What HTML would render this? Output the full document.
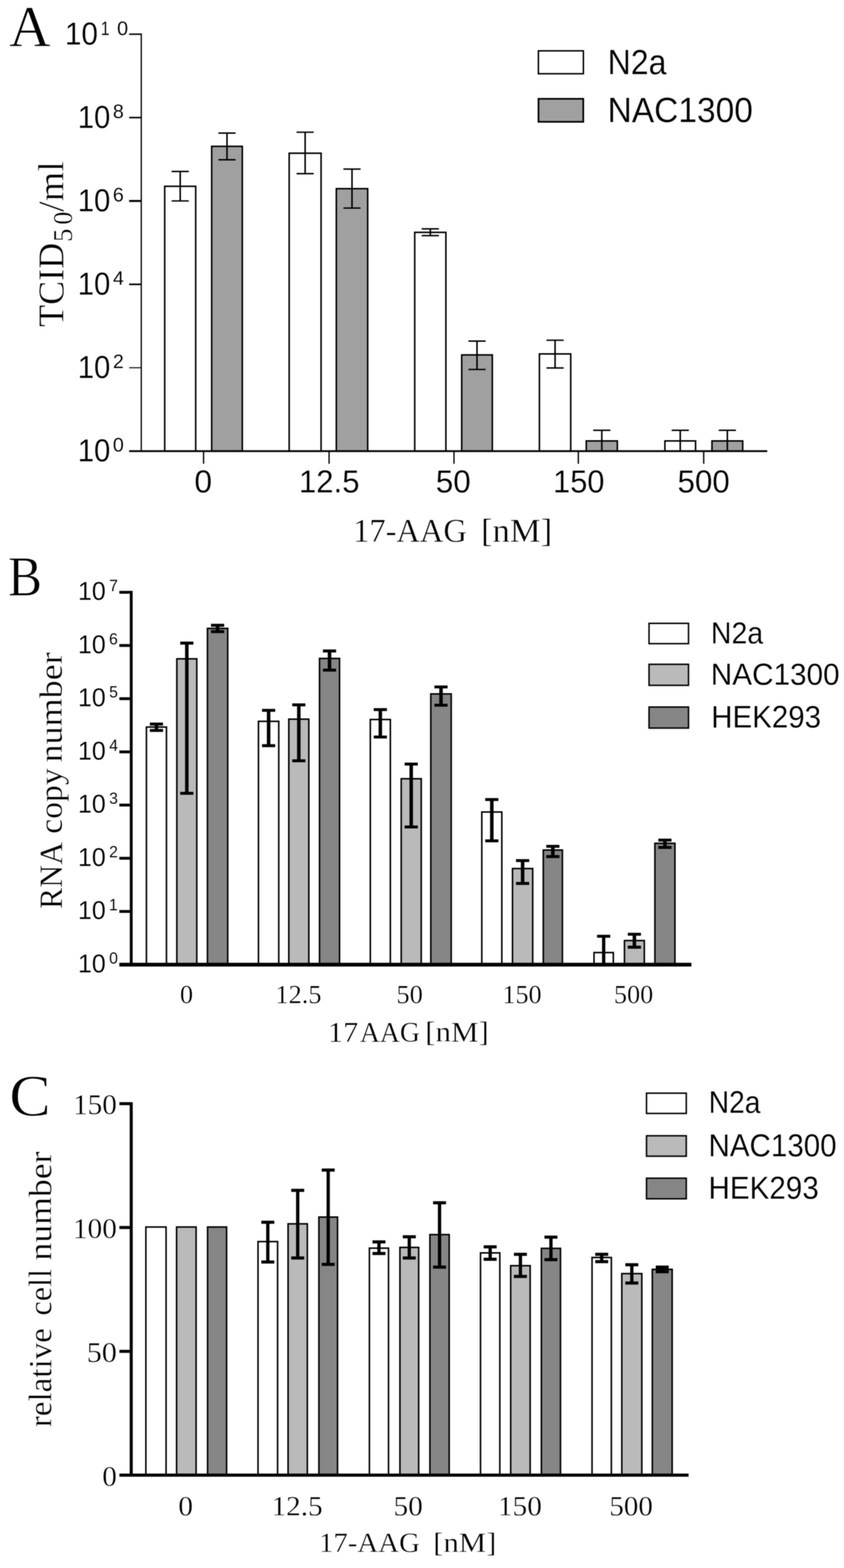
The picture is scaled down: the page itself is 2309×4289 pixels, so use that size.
<!DOCTYPE html>
<html lang="en">
<head>
<meta charset="utf-8">
<title>17-AAG dose response: TCID50, RNA copy number and relative cell number</title>
<style>
html,body{margin:0;padding:0;background:#fff;}
body{width:2309px;height:4289px;overflow:hidden;}
svg{display:block;}
svg line, svg rect{stroke:#000;}
text{fill:#000;}
.s{font-family:"Liberation Sans",Arial,Helvetica,sans-serif;stroke:#fff;stroke-linejoin:round;}
.r{font-family:"Liberation Serif","Times New Roman",Times,serif;stroke:#fff;stroke-linejoin:round;}
</style>
</head>
<body>
<svg width="2309" height="4289" viewBox="0 0 2309 4289">
<rect x="0" y="0" width="2309" height="4289" fill="#fff" style="stroke:none"/>
<defs><filter id="soft" x="0" y="0" width="2309" height="4289" filterUnits="userSpaceOnUse" color-interpolation-filters="sRGB"><feGaussianBlur stdDeviation="0.9"/></filter></defs>
<g filter="url(#soft)">
<g id="panelA">
<rect x="450.6" y="509.6" width="84.8" height="724.4" fill="#fff" stroke-width="4.2"/>
<rect x="579.1" y="400.3" width="83.8" height="833.7" fill="#a0a0a0" stroke-width="4.2"/>
<rect x="791.1" y="419.1" width="87.3" height="814.9" fill="#fff" stroke-width="4.2"/>
<rect x="920.1" y="516.1" width="85.8" height="717.9" fill="#a0a0a0" stroke-width="4.2"/>
<rect x="1134.6" y="635.6" width="85.3" height="598.4" fill="#fff" stroke-width="4.2"/>
<rect x="1263.1" y="970.8" width="83.8" height="263.2" fill="#a0a0a0" stroke-width="4.2"/>
<rect x="1475.7" y="968.1" width="85.7" height="265.9" fill="#fff" stroke-width="4.2"/>
<rect x="1603.9" y="1206.1" width="85" height="27.9" fill="#a0a0a0" stroke-width="4.2"/>
<rect x="1819.1" y="1206.1" width="83.8" height="27.9" fill="#fff" stroke-width="4.2"/>
<rect x="1947.8" y="1206.1" width="84.1" height="27.9" fill="#a0a0a0" stroke-width="4.2"/>
<line x1="493" y1="469" x2="493" y2="549.6" stroke-width="4.2"/>
<line x1="469.5" y1="469" x2="516.5" y2="469" stroke-width="3.8"/>
<line x1="469.5" y1="549.6" x2="516.5" y2="549.6" stroke-width="3.8"/>
<line x1="621" y1="364" x2="621" y2="437" stroke-width="4.2"/>
<line x1="597.5" y1="364" x2="644.5" y2="364" stroke-width="3.8"/>
<line x1="597.5" y1="437" x2="644.5" y2="437" stroke-width="3.8"/>
<line x1="834.75" y1="361.6" x2="834.75" y2="475" stroke-width="4.2"/>
<line x1="811.25" y1="361.6" x2="858.25" y2="361.6" stroke-width="3.8"/>
<line x1="811.25" y1="475" x2="858.25" y2="475" stroke-width="3.8"/>
<line x1="963" y1="462.5" x2="963" y2="569.2" stroke-width="4.2"/>
<line x1="939.5" y1="462.5" x2="986.5" y2="462.5" stroke-width="3.8"/>
<line x1="939.5" y1="569.2" x2="986.5" y2="569.2" stroke-width="3.8"/>
<line x1="1177.25" y1="626" x2="1177.25" y2="644.5" stroke-width="4.2"/>
<line x1="1153.75" y1="626" x2="1200.75" y2="626" stroke-width="3.8"/>
<line x1="1153.75" y1="644.5" x2="1200.75" y2="644.5" stroke-width="3.8"/>
<line x1="1305" y1="933" x2="1305" y2="1010.7" stroke-width="4.2"/>
<line x1="1281.5" y1="933" x2="1328.5" y2="933" stroke-width="3.8"/>
<line x1="1281.5" y1="1010.7" x2="1328.5" y2="1010.7" stroke-width="3.8"/>
<line x1="1518.55" y1="930.7" x2="1518.55" y2="1006.5" stroke-width="4.2"/>
<line x1="1495.05" y1="930.7" x2="1542.05" y2="930.7" stroke-width="3.8"/>
<line x1="1495.05" y1="1006.5" x2="1542.05" y2="1006.5" stroke-width="3.8"/>
<line x1="1646.4" y1="1177" x2="1646.4" y2="1234" stroke-width="4.2"/>
<line x1="1622.9" y1="1177" x2="1669.9" y2="1177" stroke-width="3.8"/>
<line x1="1861" y1="1177" x2="1861" y2="1234" stroke-width="4.2"/>
<line x1="1837.5" y1="1177" x2="1884.5" y2="1177" stroke-width="3.8"/>
<line x1="1989.85" y1="1177" x2="1989.85" y2="1234" stroke-width="4.2"/>
<line x1="1966.35" y1="1177" x2="2013.35" y2="1177" stroke-width="3.8"/>
<line x1="386.5" y1="91.4" x2="386.5" y2="1234" stroke-width="3.4"/>
<line x1="353.3" y1="1234" x2="2099" y2="1234" stroke-width="4.8"/>
<line x1="353.3" y1="1005.9" x2="386.5" y2="1005.9" stroke-width="2.8"/>
<line x1="353.3" y1="777.8" x2="386.5" y2="777.8" stroke-width="4.4"/>
<line x1="353.3" y1="549.7" x2="386.5" y2="549.7" stroke-width="5.6"/>
<line x1="353.3" y1="321.6" x2="386.5" y2="321.6" stroke-width="4.2"/>
<line x1="353.3" y1="93.5" x2="386.5" y2="93.5" stroke-width="4.2"/>
<line x1="556.9" y1="1234" x2="556.9" y2="1268.6" stroke-width="3.6"/>
<line x1="900.3" y1="1234" x2="900.3" y2="1268.6" stroke-width="3.6"/>
<line x1="1242" y1="1234" x2="1242" y2="1268.6" stroke-width="3.6"/>
<line x1="1582.2" y1="1234" x2="1582.2" y2="1268.6" stroke-width="3.6"/>
<line x1="1925.2" y1="1234" x2="1925.2" y2="1268.6" stroke-width="3.6"/>
<text class="s" transform="translate(212.75 1262) scale(0.9231 1)" font-size="86.84" stroke-width="0.43">10</text>
<text class="s" transform="translate(308.82 1235.4) scale(1.0000 1)" font-size="53.83" stroke-width="0.27">0</text>
<text class="s" transform="translate(212.75 1033.9) scale(0.9231 1)" font-size="86.84" stroke-width="0.43">10</text>
<text class="s" transform="translate(308.82 1007.3) scale(1.0000 1)" font-size="53.83" stroke-width="0.27">2</text>
<text class="s" transform="translate(212.75 805.8) scale(0.9231 1)" font-size="86.84" stroke-width="0.43">10</text>
<text class="s" transform="translate(309 779.2) scale(1.0000 1)" font-size="53.83" stroke-width="0.27">4</text>
<text class="s" transform="translate(212.75 577.7) scale(0.9231 1)" font-size="86.84" stroke-width="0.43">10</text>
<text class="s" transform="translate(308.64 551.1) scale(1.0000 1)" font-size="53.83" stroke-width="0.27">6</text>
<text class="s" transform="translate(212.75 349.6) scale(0.9231 1)" font-size="86.84" stroke-width="0.43">10</text>
<text class="s" transform="translate(308.82 323) scale(1.0000 1)" font-size="53.83" stroke-width="0.27">8</text>
<text class="s" transform="translate(177.68 121.5) scale(0.9347 1)" font-size="86.84" stroke-width="0.43">10</text>
<text class="s" transform="translate(275.68 95.5) scale(0.7930 1)" font-size="54.55" stroke-width="0.27">1</text>
<text class="s" transform="translate(320.13 95.5) scale(0.9962 1)" font-size="54.55" stroke-width="0.27">0</text>
<text class="s" transform="translate(531.72 1346.9) scale(1.0009 1)" font-size="86.99" stroke-width="0.43">0</text>
<text class="s" transform="translate(817.67 1346.9) scale(0.9799 1)" font-size="86.99" stroke-width="0.43">12.5</text>
<text class="s" transform="translate(1192.27 1346.9) scale(0.9868 1)" font-size="86.99" stroke-width="0.43">50</text>
<text class="s" transform="translate(1513.03 1346.9) scale(0.9695 1)" font-size="86.99" stroke-width="0.43">150</text>
<text class="s" transform="translate(1853.47 1346.9) scale(0.9855 1)" font-size="86.99" stroke-width="0.43">500</text>
<text class="r" transform="translate(966.09 1482.3) scale(0.9686 1)" font-size="91.82" stroke-width="0.92">17-AAG</text>
<text class="r" transform="translate(1315.95 1482.3) scale(1.0327 1)" font-size="91.82" stroke-width="0.92">[nM]</text>
<text class="r" transform="translate(172.5 894.24) rotate(-90) scale(0.9940 1)" font-size="99.29" stroke-width="0.99">TCID</text>
<text class="r" transform="translate(197.4 661.49) rotate(-90) scale(0.9787 1)" font-size="73.72" stroke-width="0.74">5</text>
<text class="r" transform="translate(197.4 614.6) rotate(-90) scale(0.9633 1)" font-size="73.72" stroke-width="0.74">0</text>
<text class="r" transform="translate(172.5 579.4) rotate(-90) scale(1.0452 1)" font-size="99.29" stroke-width="0.99">/ml</text>
<text class="r" transform="translate(24.41 125.5) scale(1.0002 1)" font-size="158.64" stroke-width="1.59">A</text>
<rect x="1472.9" y="139.1" width="123.1" height="62.6" fill="#fff" stroke-width="4"/>
<rect x="1473.2" y="270.3" width="122.5" height="62.9" fill="#a0a0a0" stroke-width="4.6"/>
<text class="s" transform="translate(1662.5 202.8) scale(0.9070 1)" font-size="96.52" stroke-width="0.48">N2a</text>
<text class="s" transform="translate(1662.16 333.6) scale(0.9431 1)" font-size="97.25" stroke-width="0.49">NAC1300</text>
</g>
<g id="panelB">
<rect x="400.6" y="1988.7" width="54.8" height="650" fill="#fff" stroke-width="4.2"/>
<rect x="483.8" y="1802.1" width="54.6" height="836.6" fill="#bababa" stroke-width="4.2"/>
<rect x="567.5" y="1718.9" width="55.5" height="919.8" fill="#868686" stroke-width="4.2"/>
<rect x="707.1" y="1973.1" width="55.5" height="665.6" fill="#fff" stroke-width="4.2"/>
<rect x="790.1" y="1967.1" width="54.8" height="671.6" fill="#bababa" stroke-width="4.2"/>
<rect x="874.1" y="1801.1" width="54.8" height="837.6" fill="#868686" stroke-width="4.2"/>
<rect x="1013.1" y="1968.1" width="54.8" height="670.6" fill="#fff" stroke-width="4.2"/>
<rect x="1097.6" y="2130.1" width="54.8" height="508.6" fill="#bababa" stroke-width="4.2"/>
<rect x="1178.6" y="1898.1" width="55.8" height="740.6" fill="#868686" stroke-width="4.2"/>
<rect x="1318.1" y="2221.1" width="54.8" height="417.6" fill="#fff" stroke-width="4.2"/>
<rect x="1402.1" y="2375.8" width="55.3" height="262.9" fill="#bababa" stroke-width="4.2"/>
<rect x="1486.3" y="2325.1" width="52.3" height="313.6" fill="#868686" stroke-width="4.2"/>
<rect x="1625.1" y="2605.6" width="52.8" height="33.1" fill="#fff" stroke-width="4.2"/>
<rect x="1708.4" y="2572.8" width="54.3" height="65.9" fill="#bababa" stroke-width="4.2"/>
<rect x="1791.6" y="2306.7" width="54.9" height="332" fill="#868686" stroke-width="4.2"/>
<line x1="428" y1="1980.5" x2="428" y2="1998" stroke-width="9.6"/>
<line x1="410" y1="1980.5" x2="446" y2="1980.5" stroke-width="8.2"/>
<line x1="410" y1="1998" x2="446" y2="1998" stroke-width="8.2"/>
<line x1="511.1" y1="1759.2" x2="511.1" y2="2170" stroke-width="9.6"/>
<line x1="493.1" y1="1759.2" x2="529.1" y2="1759.2" stroke-width="8.2"/>
<line x1="493.1" y1="2170" x2="529.1" y2="2170" stroke-width="8.2"/>
<line x1="595.25" y1="1710.3" x2="595.25" y2="1727.6" stroke-width="9.6"/>
<line x1="577.25" y1="1710.3" x2="613.25" y2="1710.3" stroke-width="8.2"/>
<line x1="577.25" y1="1727.6" x2="613.25" y2="1727.6" stroke-width="8.2"/>
<line x1="734.85" y1="1943" x2="734.85" y2="2039.6" stroke-width="9.6"/>
<line x1="716.85" y1="1943" x2="752.85" y2="1943" stroke-width="8.2"/>
<line x1="716.85" y1="2039.6" x2="752.85" y2="2039.6" stroke-width="8.2"/>
<line x1="817.5" y1="1928" x2="817.5" y2="2081" stroke-width="9.6"/>
<line x1="799.5" y1="1928" x2="835.5" y2="1928" stroke-width="8.2"/>
<line x1="799.5" y1="2081" x2="835.5" y2="2081" stroke-width="8.2"/>
<line x1="901.5" y1="1780.6" x2="901.5" y2="1833" stroke-width="9.6"/>
<line x1="883.5" y1="1780.6" x2="919.5" y2="1780.6" stroke-width="8.2"/>
<line x1="883.5" y1="1833" x2="919.5" y2="1833" stroke-width="8.2"/>
<line x1="1040.5" y1="1941" x2="1040.5" y2="2016" stroke-width="9.6"/>
<line x1="1022.5" y1="1941" x2="1058.5" y2="1941" stroke-width="8.2"/>
<line x1="1022.5" y1="2016" x2="1058.5" y2="2016" stroke-width="8.2"/>
<line x1="1125" y1="2090" x2="1125" y2="2262" stroke-width="9.6"/>
<line x1="1107" y1="2090" x2="1143" y2="2090" stroke-width="8.2"/>
<line x1="1107" y1="2262" x2="1143" y2="2262" stroke-width="8.2"/>
<line x1="1206.5" y1="1879" x2="1206.5" y2="1929" stroke-width="9.6"/>
<line x1="1188.5" y1="1879" x2="1224.5" y2="1879" stroke-width="8.2"/>
<line x1="1188.5" y1="1929" x2="1224.5" y2="1929" stroke-width="8.2"/>
<line x1="1345.5" y1="2187" x2="1345.5" y2="2300" stroke-width="9.6"/>
<line x1="1327.5" y1="2187" x2="1363.5" y2="2187" stroke-width="8.2"/>
<line x1="1327.5" y1="2300" x2="1363.5" y2="2300" stroke-width="8.2"/>
<line x1="1429.75" y1="2354" x2="1429.75" y2="2416.5" stroke-width="9.6"/>
<line x1="1411.75" y1="2354" x2="1447.75" y2="2354" stroke-width="8.2"/>
<line x1="1411.75" y1="2416.5" x2="1447.75" y2="2416.5" stroke-width="8.2"/>
<line x1="1512.45" y1="2315" x2="1512.45" y2="2343" stroke-width="9.6"/>
<line x1="1494.45" y1="2315" x2="1530.45" y2="2315" stroke-width="8.2"/>
<line x1="1494.45" y1="2343" x2="1530.45" y2="2343" stroke-width="8.2"/>
<line x1="1651.5" y1="2561" x2="1651.5" y2="2638.7" stroke-width="9"/>
<line x1="1633.5" y1="2561" x2="1669.5" y2="2561" stroke-width="8"/>
<line x1="1735.55" y1="2555.5" x2="1735.55" y2="2590.8" stroke-width="9.6"/>
<line x1="1717.55" y1="2555.5" x2="1753.55" y2="2555.5" stroke-width="8.2"/>
<line x1="1717.55" y1="2590.8" x2="1753.55" y2="2590.8" stroke-width="8.2"/>
<line x1="1819.05" y1="2298" x2="1819.05" y2="2318" stroke-width="9.6"/>
<line x1="1801.05" y1="2298" x2="1837.05" y2="2298" stroke-width="8.2"/>
<line x1="1801.05" y1="2318" x2="1837.05" y2="2318" stroke-width="8.2"/>
<line x1="359" y1="1616.3" x2="359" y2="2638.7" stroke-width="7.8"/>
<line x1="326.5" y1="2638.7" x2="1891.5" y2="2638.7" stroke-width="10.2"/>
<line x1="326.5" y1="2493.2" x2="359" y2="2493.2" stroke-width="7.8"/>
<line x1="326.5" y1="2347.7" x2="359" y2="2347.7" stroke-width="7.8"/>
<line x1="326.5" y1="2202.2" x2="359" y2="2202.2" stroke-width="7.8"/>
<line x1="326.5" y1="2056.7" x2="359" y2="2056.7" stroke-width="7.8"/>
<line x1="326.5" y1="1911.2" x2="359" y2="1911.2" stroke-width="7.8"/>
<line x1="326.5" y1="1765.7" x2="359" y2="1765.7" stroke-width="7.8"/>
<line x1="326.5" y1="1620.2" x2="359" y2="1620.2" stroke-width="7.8"/>
<text class="s" transform="translate(213.26 2659.5) scale(0.9754 1)" font-size="70.05" stroke-width="0.35">10</text>
<text class="s" transform="translate(298.49 2635.5) scale(1.0000 1)" font-size="43.49" stroke-width="0.22">0</text>
<text class="s" transform="translate(213.26 2514) scale(0.9754 1)" font-size="70.05" stroke-width="0.35">10</text>
<text class="s" transform="translate(297.91 2490) scale(1.0000 1)" font-size="43.49" stroke-width="0.22">1</text>
<text class="s" transform="translate(213.26 2368.5) scale(0.9754 1)" font-size="70.05" stroke-width="0.35">10</text>
<text class="s" transform="translate(298.49 2344.5) scale(1.0000 1)" font-size="43.49" stroke-width="0.22">2</text>
<text class="s" transform="translate(213.26 2223) scale(0.9754 1)" font-size="70.05" stroke-width="0.35">10</text>
<text class="s" transform="translate(298.57 2199) scale(1.0000 1)" font-size="43.49" stroke-width="0.22">3</text>
<text class="s" transform="translate(213.26 2077.5) scale(0.9754 1)" font-size="70.05" stroke-width="0.35">10</text>
<text class="s" transform="translate(298.64 2053.5) scale(1.0000 1)" font-size="43.49" stroke-width="0.22">4</text>
<text class="s" transform="translate(213.26 1932) scale(0.9754 1)" font-size="70.05" stroke-width="0.35">10</text>
<text class="s" transform="translate(298.57 1908) scale(1.0000 1)" font-size="43.49" stroke-width="0.22">5</text>
<text class="s" transform="translate(213.26 1786.5) scale(0.9754 1)" font-size="70.05" stroke-width="0.35">10</text>
<text class="s" transform="translate(298.35 1762.5) scale(1.0000 1)" font-size="43.49" stroke-width="0.22">6</text>
<text class="s" transform="translate(213.26 1641) scale(0.9754 1)" font-size="70.05" stroke-width="0.35">10</text>
<text class="s" transform="translate(298.49 1617) scale(1.0000 1)" font-size="43.49" stroke-width="0.22">7</text>
<text class="r" transform="translate(492.16 2743.8) scale(0.9944 1)" font-size="72.36" stroke-width="0.72">0</text>
<text class="r" transform="translate(753.35 2743.8) scale(0.9960 1)" font-size="72.36" stroke-width="0.72">12.5</text>
<text class="r" transform="translate(1084.5 2743.8) scale(0.9999 1)" font-size="72.36" stroke-width="0.72">50</text>
<text class="r" transform="translate(1374.61 2743.8) scale(0.9878 1)" font-size="72.36" stroke-width="0.72">150</text>
<text class="r" transform="translate(1679.54 2743.8) scale(0.9913 1)" font-size="72.36" stroke-width="0.72">500</text>
<text class="r" transform="translate(897.22 2849.4) scale(1.0538 1)" font-size="78.64" stroke-width="0.79">17</text>
<text class="r" transform="translate(984.44 2849.4) scale(0.9657 1)" font-size="78.64" stroke-width="0.79">AAG</text>
<text class="r" transform="translate(1163.19 2849.4) scale(1.0771 1)" font-size="78.64" stroke-width="0.79">[nM]</text>
<text class="r" transform="translate(168.7 2486.41) rotate(-90) scale(0.9668 1)" font-size="89.85" stroke-width="0.9">RNA</text>
<text class="r" transform="translate(168.7 2280.68) rotate(-90) scale(1.0263 1)" font-size="89.85" stroke-width="0.9">copy</text>
<text class="r" transform="translate(168.7 2085.5) rotate(-90) scale(1.0978 1)" font-size="89.85" stroke-width="0.9">number</text>
<text class="r" transform="translate(21.8 1628.9) scale(0.9001 1)" font-size="155.48" stroke-width="1.55">B</text>
<rect x="1775.6" y="1705.1" width="108" height="55.5" fill="#fff" stroke-width="4"/>
<rect x="1775.6" y="1817.1" width="108" height="57.5" fill="#bababa" stroke-width="4"/>
<rect x="1775.6" y="1934" width="108" height="57.5" fill="#868686" stroke-width="4"/>
<text class="s" transform="translate(1944.8 1759.7) scale(0.9383 1)" font-size="83.19" stroke-width="0.42">N2a</text>
<text class="s" transform="translate(1944.53 1873.3) scale(0.9772 1)" font-size="83.19" stroke-width="0.42">NAC1300</text>
<text class="s" transform="translate(1945.78 1990.2) scale(0.9559 1)" font-size="84.35" stroke-width="0.42">HEK293</text>
</g>
<g id="panelC">
<rect x="399.1" y="3356.3" width="55.2" height="678.7" fill="#fff" stroke-width="4.2"/>
<rect x="483.1" y="3356.3" width="53.4" height="678.7" fill="#bababa" stroke-width="4.2"/>
<rect x="567.9" y="3356.3" width="52" height="678.7" fill="#868686" stroke-width="4.2"/>
<rect x="705.9" y="3396.2" width="53.5" height="638.8" fill="#fff" stroke-width="4.2"/>
<rect x="788.1" y="3347.6" width="52.7" height="687.4" fill="#bababa" stroke-width="4.2"/>
<rect x="872.4" y="3329.1" width="51" height="705.9" fill="#868686" stroke-width="4.2"/>
<rect x="1010.6" y="3414.1" width="52.3" height="620.9" fill="#fff" stroke-width="4.2"/>
<rect x="1094.1" y="3412.1" width="51.3" height="622.9" fill="#bababa" stroke-width="4.2"/>
<rect x="1176.1" y="3377.1" width="52.8" height="657.9" fill="#868686" stroke-width="4.2"/>
<rect x="1314.6" y="3427.1" width="52.8" height="607.9" fill="#fff" stroke-width="4.2"/>
<rect x="1397.1" y="3462.1" width="53.3" height="572.9" fill="#bababa" stroke-width="4.2"/>
<rect x="1481.1" y="3414.7" width="52.3" height="620.3" fill="#868686" stroke-width="4.2"/>
<rect x="1619.7" y="3439.7" width="52.8" height="595.3" fill="#fff" stroke-width="4.2"/>
<rect x="1701.1" y="3483.8" width="54.8" height="551.2" fill="#bababa" stroke-width="4.2"/>
<rect x="1784.6" y="3472.1" width="54.3" height="562.9" fill="#868686" stroke-width="4.2"/>
<line x1="732.65" y1="3343.3" x2="732.65" y2="3452" stroke-width="9"/>
<line x1="714.9" y1="3343.3" x2="750.4" y2="3343.3" stroke-width="8.5"/>
<line x1="714.9" y1="3452" x2="750.4" y2="3452" stroke-width="8.5"/>
<line x1="814.45" y1="3256.1" x2="814.45" y2="3441.1" stroke-width="9"/>
<line x1="796.7" y1="3256.1" x2="832.2" y2="3256.1" stroke-width="8.5"/>
<line x1="796.7" y1="3441.1" x2="832.2" y2="3441.1" stroke-width="8.5"/>
<line x1="897.9" y1="3200.5" x2="897.9" y2="3458.4" stroke-width="9"/>
<line x1="880.15" y1="3200.5" x2="915.65" y2="3200.5" stroke-width="8.5"/>
<line x1="880.15" y1="3458.4" x2="915.65" y2="3458.4" stroke-width="8.5"/>
<line x1="1036.75" y1="3397" x2="1036.75" y2="3428.8" stroke-width="9"/>
<line x1="1019" y1="3397" x2="1054.5" y2="3397" stroke-width="8.5"/>
<line x1="1019" y1="3428.8" x2="1054.5" y2="3428.8" stroke-width="8.5"/>
<line x1="1119.75" y1="3383" x2="1119.75" y2="3441" stroke-width="9"/>
<line x1="1102" y1="3383" x2="1137.5" y2="3383" stroke-width="8.5"/>
<line x1="1102" y1="3441" x2="1137.5" y2="3441" stroke-width="8.5"/>
<line x1="1202.5" y1="3290" x2="1202.5" y2="3466" stroke-width="9"/>
<line x1="1184.75" y1="3290" x2="1220.25" y2="3290" stroke-width="8.5"/>
<line x1="1184.75" y1="3466" x2="1220.25" y2="3466" stroke-width="8.5"/>
<line x1="1341" y1="3410.4" x2="1341" y2="3444.4" stroke-width="9"/>
<line x1="1323.25" y1="3410.4" x2="1358.75" y2="3410.4" stroke-width="8.5"/>
<line x1="1323.25" y1="3444.4" x2="1358.75" y2="3444.4" stroke-width="8.5"/>
<line x1="1423.75" y1="3431" x2="1423.75" y2="3491.5" stroke-width="9"/>
<line x1="1406" y1="3431" x2="1441.5" y2="3431" stroke-width="8.5"/>
<line x1="1406" y1="3491.5" x2="1441.5" y2="3491.5" stroke-width="8.5"/>
<line x1="1507.25" y1="3384" x2="1507.25" y2="3445.4" stroke-width="9"/>
<line x1="1489.5" y1="3384" x2="1525" y2="3384" stroke-width="8.5"/>
<line x1="1489.5" y1="3445.4" x2="1525" y2="3445.4" stroke-width="8.5"/>
<line x1="1646.1" y1="3431" x2="1646.1" y2="3451" stroke-width="9"/>
<line x1="1628.35" y1="3431" x2="1663.85" y2="3431" stroke-width="8.5"/>
<line x1="1628.35" y1="3451" x2="1663.85" y2="3451" stroke-width="8.5"/>
<line x1="1728.5" y1="3459.6" x2="1728.5" y2="3509.4" stroke-width="9"/>
<line x1="1710.75" y1="3459.6" x2="1746.25" y2="3459.6" stroke-width="8.5"/>
<line x1="1710.75" y1="3509.4" x2="1746.25" y2="3509.4" stroke-width="8.5"/>
<line x1="1811.75" y1="3466" x2="1811.75" y2="3478.5" stroke-width="9"/>
<line x1="1794" y1="3466" x2="1829.5" y2="3466" stroke-width="8.5"/>
<line x1="1794" y1="3478.5" x2="1829.5" y2="3478.5" stroke-width="8.5"/>
<line x1="359" y1="3014.9" x2="359" y2="4035" stroke-width="8.3"/>
<line x1="326.6" y1="4035" x2="1883.8" y2="4035" stroke-width="8.4"/>
<line x1="326.6" y1="3696.3" x2="359" y2="3696.3" stroke-width="8.3"/>
<line x1="326.6" y1="3357.6" x2="359" y2="3357.6" stroke-width="8.3"/>
<line x1="326.6" y1="3018.9" x2="359" y2="3018.9" stroke-width="8.3"/>
<text class="r" transform="translate(279.77 4063.5) scale(1.0254 1)" font-size="77.94" stroke-width="0.78">0</text>
<text class="r" transform="translate(237.22 3724.8) scale(1.0599 1)" font-size="77.94" stroke-width="0.78">50</text>
<text class="r" transform="translate(199.56 3386.1) scale(1.0280 1)" font-size="77.94" stroke-width="0.78">100</text>
<text class="r" transform="translate(199.88 3047.4) scale(1.0252 1)" font-size="77.94" stroke-width="0.78">150</text>
<text class="r" transform="translate(487.84 4145) scale(1.0549 1)" font-size="76.43" stroke-width="0.76">0</text>
<text class="r" transform="translate(742.88 4145) scale(1.0453 1)" font-size="76.43" stroke-width="0.76">12.5</text>
<text class="r" transform="translate(1076.56 4145) scale(1.0491 1)" font-size="76.43" stroke-width="0.76">50</text>
<text class="r" transform="translate(1362.25 4145) scale(1.0492 1)" font-size="76.43" stroke-width="0.76">150</text>
<text class="r" transform="translate(1667.1 4145) scale(1.0380 1)" font-size="76.43" stroke-width="0.76">500</text>
<text class="r" transform="translate(872.67 4244.7) scale(1.0325 1)" font-size="76.36" stroke-width="0.76">17-AAG</text>
<text class="r" transform="translate(1185.34 4244.7) scale(1.1003 1)" font-size="76.36" stroke-width="0.76">[nM]</text>
<text class="r" transform="translate(140.2 3903.81) rotate(-90) scale(1.0205 1)" font-size="88.56" stroke-width="0.89">relative</text>
<text class="r" transform="translate(140.2 3598.44) rotate(-90) scale(0.9967 1)" font-size="88.56" stroke-width="0.89">cell</text>
<text class="r" transform="translate(140.2 3447.88) rotate(-90) scale(1.1022 1)" font-size="88.56" stroke-width="0.89">number</text>
<text class="r" transform="translate(25.6 3050.68) scale(1.0494 1)" font-size="161.88" stroke-width="1.62">C</text>
<rect x="1768.7" y="2990.2" width="108.8" height="55.4" fill="#fff" stroke-width="4"/>
<rect x="1768.7" y="3106.7" width="108.8" height="55.9" fill="#bababa" stroke-width="4"/>
<rect x="1768.7" y="3222.8" width="108.8" height="56.3" fill="#868686" stroke-width="4"/>
<text class="s" transform="translate(1938.65 3044.4) scale(0.9157 1)" font-size="84.49" stroke-width="0.42">N2a</text>
<text class="s" transform="translate(1938.37 3162.5) scale(0.9309 1)" font-size="86.81" stroke-width="0.43">NAC1300</text>
<text class="s" transform="translate(1938.35 3279) scale(0.9392 1)" font-size="86.23" stroke-width="0.43">HEK293</text>
</g>
</g>
</svg>
</body>
</html>
